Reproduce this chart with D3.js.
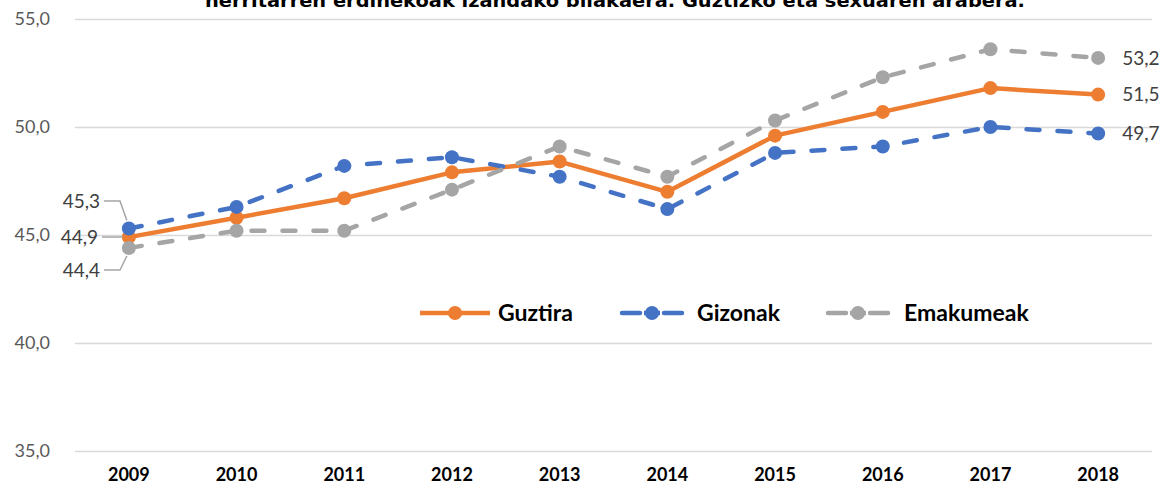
<!DOCTYPE html>
<html>
<head>
<meta charset="utf-8">
<script src="https://cdn.jsdelivr.net/npm/d3@7"></script>
<style>
  body { margin: 0; background: #fff; }
  svg { display: block; font-family: Lato, "Open Sans", sans-serif; }
</style>
</head>
<body>
<script>
// Data
var years = ["2009","2010","2011","2012","2013","2014","2015","2016","2017","2018"];
var guztira = [44.9, 45.8, 46.7, 47.9, 48.4, 47.0, 49.6, 50.7, 51.8, 51.5];
var gizonak = [45.3, 46.3, 48.2, 48.6, 47.7, 46.2, 48.8, 49.1, 50.0, 49.7];
var emakumeak = [44.4, 45.2, 45.2, 47.1, 49.1, 47.7, 50.3, 52.3, 53.6, 53.2];
var yTicks = [35, 40, 45, 50, 55];
var seriesNames = ["Guztira", "Gizonak", "Emakumeak"];
var title = "herritarren erdinekoak izandako bilakaera. Guztizko eta sexuaren arabera.";

var series = [
  {name: seriesNames[0], values: guztira, color: "#ED7D31", dash: null},
  {name: seriesNames[1], values: gizonak, color: "#4472C4", dash: "13,18"},
  {name: seriesNames[2], values: emakumeak, color: "#A5A5A5", dash: "13,18"}
];

var width = 1172, height = 489;
var plot = {left: 75, right: 1152, top: 19, bottom: 451};

var svg = d3.select("body").append("svg")
    .attr("width", width)
    .attr("height", height);

// scales
var x = d3.scaleBand()
    .domain(years)
    .range([plot.left, plot.right]);
var y = d3.scaleLinear()
    .domain([35, 55])
    .range([plot.bottom, plot.top]);

function fmt(v) { return d3.format(".1f")(v).replace(".", ","); }
function cx(d, i) { return x(years[i]) + x.bandwidth() / 2; }

// title (top half is cut off in the original)
svg.append("text")
    .attr("x", 615)
    .attr("y", 7)
    .attr("text-anchor", "middle")
    .attr("font-family", "'DejaVu Sans', sans-serif")
    .attr("font-size", 17)
    .attr("font-weight", "bold")
    .attr("textLength", 820)
    .attr("lengthAdjust", "spacingAndGlyphs")
    .attr("fill", "#000")
    .text(title);

// gridlines + y labels
var yAxis = svg.append("g")
    .attr("transform", "translate(" + plot.left + ",0)")
    .call(d3.axisLeft(y).tickValues(yTicks).tickFormat(fmt)
      .tickSize(-(plot.right - plot.left)).tickPadding(25));
yAxis.select(".domain").remove();
yAxis.selectAll("line").attr("stroke", "#D9D9D9").attr("stroke-width", 1.3);
yAxis.selectAll("text")
    .attr("fill", "#595959")
    .attr("font-size", 18)
    .attr("font-family", "Lato, 'Open Sans', sans-serif");

// x labels
var xAxis = svg.append("g")
    .attr("transform", "translate(0," + plot.bottom + ")")
    .call(d3.axisBottom(x).tickSize(0).tickPadding(17));
xAxis.select(".domain").remove();
xAxis.selectAll("text")
    .attr("fill", "#000")
    .attr("font-size", 18)
    .attr("font-weight", "bold")
    .attr("font-family", "Lato, 'Open Sans', sans-serif");

var line = d3.line()
    .x(cx)
    .y(function(d) { return y(d); });

// lines and markers
series.forEach(function(s) {
  svg.append("path")
      .datum(s.values)
      .attr("fill", "none")
      .attr("stroke", s.color)
      .attr("stroke-width", 4.5)
      .attr("stroke-linecap", s.dash ? "round" : "butt")
      .attr("stroke-linejoin", "round")
      .attr("stroke-dasharray", s.dash)
      .attr("d", line);
  svg.selectAll(null)
      .data(s.values)
      .enter().append("circle")
      .attr("cx", cx)
      .attr("cy", function(d) { return y(d); })
      .attr("r", 7)
      .attr("fill", s.color);
});

// end labels (right side)
series.forEach(function(s) {
  var last = s.values.length - 1;
  svg.append("text")
      .attr("x", cx(null, last) + 24)
      .attr("y", y(s.values[last]))
      .attr("dy", "0.35em")
      .attr("font-size", 19)
      .attr("fill", "#404040")
      .text(fmt(s.values[last]));
});

// start labels with leader lines
var x0 = cx(null, 0);
var startLabels = [
  {v: gizonak[0], ly: 201},
  {v: guztira[0], ly: 237},
  {v: emakumeak[0], ly: 270}
];
startLabels.forEach(function(l) {
  var py = y(l.v);
  var pts = Math.abs(l.ly - py) > 8
    ? [[104, l.ly], [120, l.ly], [x0 - 2, py + (l.ly < py ? -8 : 8)]]
    : [[102, l.ly], [x0 - 6, l.ly]];
  svg.append("path")
      .attr("d", d3.line()(pts))
      .attr("fill", "none")
      .attr("stroke", "#A5A5A5")
      .attr("stroke-width", 1.5);
  svg.append("text")
      .attr("x", pts[0][0] - 4)
      .attr("y", l.ly)
      .attr("dy", "0.35em")
      .attr("text-anchor", "end")
      .attr("font-size", 19)
      .attr("fill", "#404040")
      .text(fmt(l.v));
});

// legend
var legendItems = [
  {s: series[0], lx: 420, tx: 498},
  {s: series[1], lx: 620, tx: 697},
  {s: series[2], lx: 826, tx: 904}
];
var ly = 313;
legendItems.forEach(function(it) {
  if (it.s.dash) {
    svg.append("line").attr("x1", it.lx + 2).attr("x2", it.lx + 20)
      .attr("y1", ly).attr("y2", ly)
      .attr("stroke", it.s.color).attr("stroke-width", 4.5).attr("stroke-linecap", "round");
    svg.append("line").attr("x1", it.lx + 44).attr("x2", it.lx + 62)
      .attr("y1", ly).attr("y2", ly)
      .attr("stroke", it.s.color).attr("stroke-width", 4.5).attr("stroke-linecap", "round");
    svg.append("line").attr("x1", it.lx + 24).attr("x2", it.lx + 40)
      .attr("y1", ly).attr("y2", ly)
      .attr("stroke", it.s.color).attr("stroke-width", 4.5);
  } else {
    svg.append("line").attr("x1", it.lx).attr("x2", it.lx + 70)
      .attr("y1", ly).attr("y2", ly)
      .attr("stroke", it.s.color).attr("stroke-width", 4.5);
  }
  svg.append("circle")
      .attr("cx", it.s.dash ? it.lx + 32 : it.lx + 35)
      .attr("cy", ly)
      .attr("r", 7)
      .attr("fill", it.s.color);
  svg.append("text")
      .attr("x", it.tx)
      .attr("y", ly)
      .attr("dy", "0.35em")
      .attr("font-size", 23)
      .attr("font-weight", "bold")
      .attr("fill", "#000")
      .text(it.s.name);
});
</script>
</body>
</html>
